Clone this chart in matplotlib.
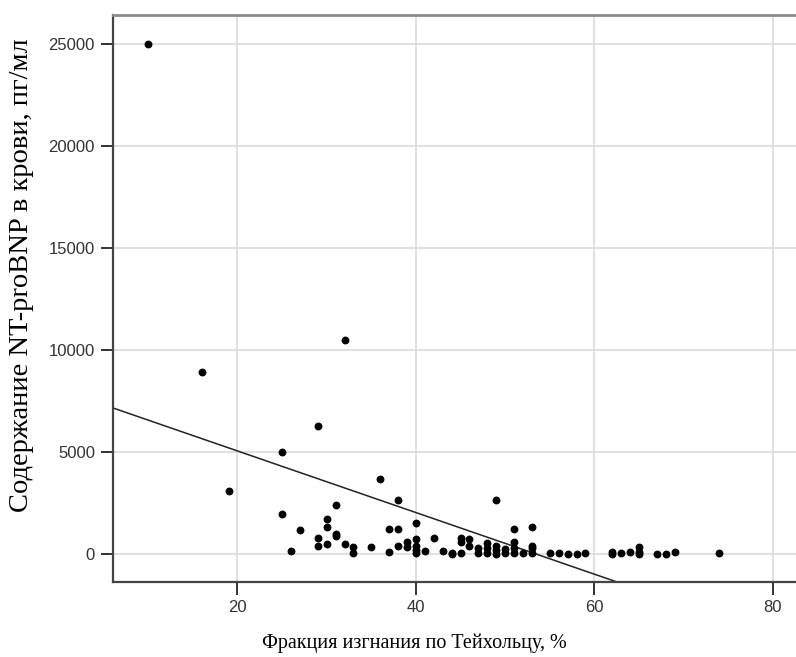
import numpy as np
import matplotlib.pyplot as plt

# EF (Teichholz), % and NT-proBNP, pg/ml
ef = [10, 16, 19, 25, 25, 26, 27, 29, 29, 29, 30, 30, 30, 31, 31, 31, 32, 32,
      33, 33, 35, 36, 37, 37, 38, 38, 38, 39, 39, 40, 40, 40, 40, 40, 41, 42,
      43, 44, 44, 45, 45, 45, 46, 46, 47, 47, 48, 48, 48, 49, 49, 49, 49, 50,
      50, 51, 51, 51, 51, 52, 53, 53, 53, 53, 55, 56, 57, 58, 59, 62, 62, 63,
      64, 65, 65, 65, 67, 68, 69, 74]
bnp = [25000, 8900, 3100, 5000, 1950, 150, 1180, 6260, 800, 410, 1700, 1310,
       480, 2400, 1000, 900, 10480, 500, 360, 40, 340, 3660, 1230, 100, 2650,
       1230, 410, 600, 330, 1500, 720, 410, 210, 30, 160, 800, 160, 60, 20,
       770, 600, 40, 720, 410, 280, 40, 520, 280, 40, 2650, 410, 200, 20, 230,
       40, 1210, 600, 280, 40, 40, 1310, 410, 280, 40, 40, 60, 20, 20, 40, 90,
       10, 40, 90, 360, 90, 10, 10, 10, 110, 70]

# linear fit line as shown
fit_intercept = 8071
fit_slope = -151

xticks = [20, 40, 60, 80]
yticks = [0, 5000, 10000, 15000, 20000, 25000]

fig = plt.figure(figsize=(7.96, 6.57), dpi=100)
ax = fig.add_axes([113 / 796, 1 - 582 / 657, 1 - 113 / 796, (582 - 15) / 657])

xmin, xmax = 6.05, 82.6
ax.set_xlim(xmin, xmax)
ax.set_ylim(-1373, 26420)

ax.grid(True, color='#dadada', lw=1.2)
ax.set_axisbelow(True)

ax.scatter(ef, bnp, s=32, color='black', zorder=3, linewidths=0)

xl = np.array([xmin, xmax])
ax.plot(xl, fit_intercept + fit_slope * xl, color='#222222', lw=1.1, zorder=2)

ax.set_xticks(xticks)
ax.set_yticks(yticks)
ax.tick_params(direction='out', length=9, width=1.4, color='#333333',
               labelsize=12, labelcolor='#333333', pad=4)
for lab in ax.get_xticklabels() + ax.get_yticklabels():
    lab.set_family('Liberation Sans')

ax.spines['right'].set_visible(False)
ax.spines['top'].set_color('#8c8c8c')
ax.spines['top'].set_linewidth(2)
for s in ['left', 'bottom']:
    ax.spines[s].set_color('#444444')
    ax.spines[s].set_linewidth(1.6)

fig.text(414 / 796, 1 - 643 / 657, 'Фракция изгнания по Тейхольцу, %',
         family='Liberation Serif', fontsize=14.5, ha='center', va='center')
fig.text(22 / 796, 1 - 275 / 657, 'Содержание NT-proBNP в крови, пг/мл',
         family='Liberation Serif', fontsize=20.5, ha='center', va='center',
         rotation=90)

fig.savefig('out.png', dpi=100)
